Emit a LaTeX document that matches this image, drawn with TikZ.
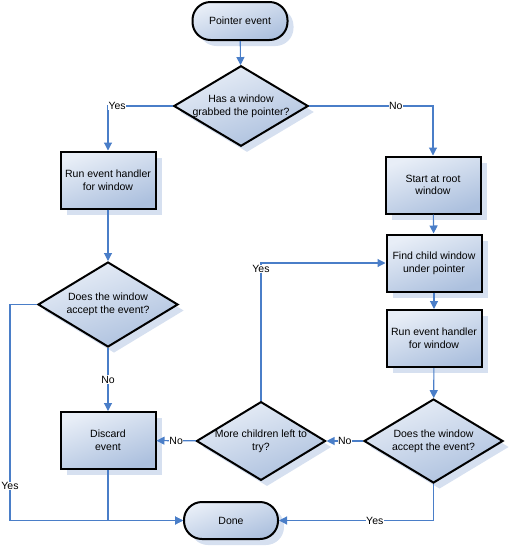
\documentclass[tikz,border=0pt]{standalone}
\usepackage{fontspec}
\setmainfont{Liberation Sans}
\usepackage{tikz}
\usetikzlibrary{shapes.geometric,shadows,arrows.meta}

\definecolor{flowblue}{RGB}{74,126,200}
\definecolor{boxtop}{RGB}{232,238,247}
\definecolor{boxbot}{RGB}{172,192,222}
\definecolor{shadowc}{RGB}{214,224,240}

\tikzset{
	base/.style={draw=black,line width=2pt,top color=boxtop,bottom color=boxbot,shading angle=20,
		drop shadow={shadow xshift=6pt,shadow yshift=-6pt,fill=shadowc,opacity=1},
		font=\fontsize{10.5}{12.7}\selectfont,align=center,inner sep=1pt},
	term/.style={base,rectangle,rounded corners=18pt,minimum width=95pt,minimum height=38pt},
	proc/.style={base,rectangle,minimum width=95pt,minimum height=57pt},
	dec/.style={base,diamond,minimum width=#1,inner sep=0pt},
	flow/.style={draw=flowblue,line width=1.1pt,-{Triangle[width=8pt,length=8pt]}},
	line/.style={draw=flowblue,line width=1.1pt},
	lbl/.style={fill=white,inner sep=0.5pt,font=\fontsize{10.5}{12.7}\selectfont}
}

\begin{document}
\begin{tikzpicture}[x=1pt,y=-1pt]
	\useasboundingbox (0,0) rectangle (511,547);

	\node[term] (p) at (240, 21)    {Pointer event};
	\node[dec=132pt,minimum height=79pt,aspect=1.67] (g) at (241, 106)   {Has a window\\grabbed the pointer?};
	\node[proc] (r1) at (108, 180)  {Run event handler\\for window};
	\node[proc] (s) at (433, 185)   {Start at root\\window};
	\node[dec=140pt,minimum height=85pt,aspect=1.65] (a1) at (108, 304.5)  {Does the window\\accept the event?};
	\node[proc] (f) at (434, 263)   {Find child window\\under pointer};
	\node[proc] (r2) at (434, 338.5) {Run event handler\\for window};
	\node[dec=139pt,minimum height=84pt,aspect=1.65] (a2) at (433.5, 441) {Does the window\\accept the event?};
	\node[dec=128pt,minimum height=78pt,aspect=1.64] (m) at (261, 441)   {More children left to\\try?};
	\node[proc] (x) at (108, 440.5) {Discard\\event};
	\node[term,minimum width=94pt,minimum height=37pt] (d) at (231, 520.5) {Done};

	\coordinate (c1) at (10, 520.5);

	\path[flow] (p) -- (g);
	\path[flow] (g.west) -| node[lbl,pos=0.43] {Yes} (r1.north);
	\path[flow] (g.east) -| node[lbl,pos=0.35] {No} (s.north);
	\path[flow] (r1) -- (a1);
	\path[flow] (s) -- (f);
	\path[flow] (f) -- (r2);
	\path[flow] (r2) -- (a2);
	\path[flow] (a1) -- node[lbl] {No} (x);
	\path[flow] (a2) -- node[lbl] {No} (m);
	\path[flow] (m) -- node[lbl] {No} (x);
	\path[flow] (m.north) |- node[lbl,pos=0.478] {Yes} (f.west);
	\path[line] (a1.west) -| node[lbl,pos=0.92] {Yes} (c1);
	\path[flow] (c1) -- (d.west);
	\path[flow] (x.south) |- (d.west);
	\path[flow] (a2.south) |- node[lbl,pos=0.69] {Yes} (d.east);

\end{tikzpicture}
\end{document}
